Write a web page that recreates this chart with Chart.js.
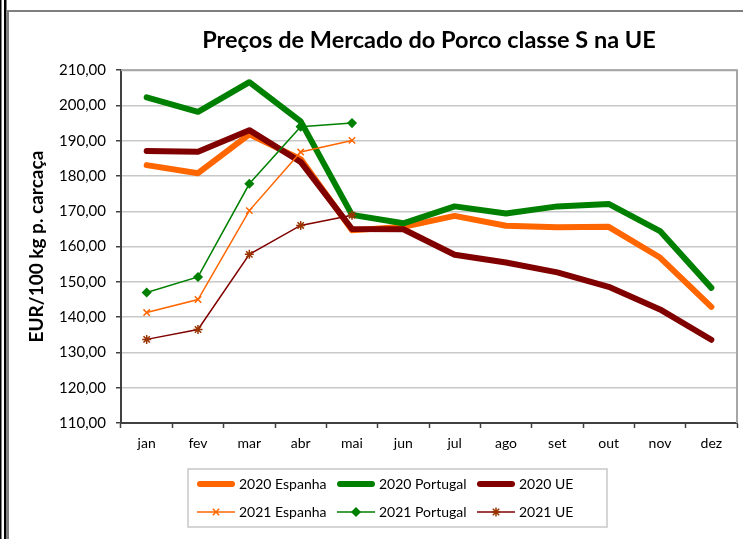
<!DOCTYPE html>
<html>
<head>
<meta charset="utf-8">
<script src="https://cdn.jsdelivr.net/npm/chart.js@4/dist/chart.umd.min.js"></script>
<style>
  html, body { margin: 0; padding: 0; background: #ffffff; }
  #wrap { width: 743px; height: 539px; position: relative; }
</style>
</head>
<body>
<div id="wrap"><canvas id="c" width="743" height="539"></canvas></div>
<script>
// Months and prices (EUR/100 kg carcass)
var months = ["jan", "fev", "mar", "abr", "mai", "jun", "jul", "ago", "set", "out", "nov", "dez"];

var esp2020 = [183.1, 180.8, 191.8, 184.8, 164.6, 165.6, 168.7, 165.9, 165.5, 165.6, 156.9, 142.9];
var por2020 = [202.3, 198.2, 206.6, 195.5, 169.0, 166.6, 171.4, 169.4, 171.4, 172.1, 164.4, 148.3];
var ue2020  = [187.1, 186.9, 193.0, 184.0, 165.0, 164.9, 157.7, 155.5, 152.7, 148.6, 142.2, 133.6];

var esp2021 = [141.3, 145.0, 170.2, 186.8, 190.1];
var por2021 = [147.0, 151.4, 177.8, 194.0, 195.0];
var ue2021  = [133.7, 136.5, 157.8, 166.0, 168.9];

var seriesNames = ["2020 Espanha", "2020 Portugal", "2020 UE", "2021 Espanha", "2021 Portugal", "2021 UE"];

var ORANGE = "#ff6600";
var GREEN = "#008000";
var DARKRED = "#800000";

var FONT = "Lato, 'Open Sans', sans-serif";

function fmt(v) {
  return v.toFixed(2).replace(".", ",");
}

// frame around the whole picture + top/right border of plot area
var framePlugin = {
  id: "frame",
  beforeDraw: function(chart) {
    var ctx = chart.ctx;
    ctx.save();
    ctx.fillStyle = "#ffffff";
    ctx.fillRect(0, 0, chart.width, chart.height);
    // double black line on the far left
    ctx.fillStyle = "#000000";
    ctx.fillRect(0, 0, 1.5, chart.height);
    ctx.fillRect(4, 0, 2.5, chart.height);
    // grey chart frame
    ctx.strokeStyle = "#7f7f7f";
    ctx.lineWidth = 2;
    ctx.beginPath();
    ctx.moveTo(8, chart.height + 5);
    ctx.lineTo(8, 11);
    ctx.lineTo(chart.width + 5, 11);
    ctx.stroke();
    ctx.restore();
  },
  afterDatasetsDraw: function(chart) {
    var a = chart.chartArea;
    var ctx = chart.ctx;
    ctx.save();
    ctx.strokeStyle = "#a6a6a6";
    ctx.lineWidth = 2;
    ctx.beginPath();
    ctx.moveTo(a.left, a.top);
    ctx.lineTo(a.right, a.top);
    ctx.lineTo(a.right, a.bottom);
    ctx.stroke();
    ctx.restore();
  }
};

// three-column legend box under the plot
var legendPlugin = {
  id: "boxLegend",
  afterDraw: function(chart) {
    var ctx = chart.ctx;
    var box = { x: 188, y: 469, w: 419, h: 58 };
    ctx.save();
    ctx.fillStyle = "#ffffff";
    ctx.fillRect(box.x, box.y, box.w, box.h);
    ctx.strokeStyle = "#c8c8c8";
    ctx.lineWidth = 1.5;
    ctx.strokeRect(box.x, box.y, box.w, box.h);

    var colX = [197, 337, 477];
    var rowY = [484, 512];
    chart.data.datasets.forEach(function(ds, i) {
      var x = colX[i % 3];
      var y = rowY[Math.floor(i / 3)];
      ctx.strokeStyle = ds.borderColor;
      ctx.lineWidth = ds.borderWidth;
      ctx.lineCap = ds.borderWidth > 3 ? "round" : "butt";
      ctx.beginPath();
      ctx.moveTo(x + (ds.borderWidth > 3 ? 3 : 0), y);
      ctx.lineTo(x + 38 - (ds.borderWidth > 3 ? 3 : 0), y);
      ctx.stroke();
      if (ds.pointRadius > 0) {
        ctx.fillStyle = ds.pointBackgroundColor;
        ctx.strokeStyle = ds.pointBorderColor;
        ctx.lineWidth = ds.pointBorderWidth;
        Chart.helpers.drawPoint(ctx, {
          pointStyle: ds.pointStyle,
          radius: ds.pointRadius,
          borderWidth: ds.pointBorderWidth,
          rotation: 0
        }, x + 19, y);
      }
      ctx.fillStyle = "#000000";
      ctx.font = "14px " + FONT;
      ctx.textBaseline = "middle";
      ctx.textAlign = "left";
      ctx.fillText(ds.label, x + 42, y);
    });
    ctx.restore();
  }
};

function thick(label, data, color, order) {
  return {
    label: label,
    data: data,
    borderColor: color,
    backgroundColor: color,
    borderWidth: 6,
    pointRadius: 0,
    pointHoverRadius: 0,
    borderCapStyle: "round",
    borderJoinStyle: "round",
    tension: 0,
    order: order
  };
}

function thin(label, data, color, style, markerColor, order) {
  return {
    label: label,
    data: data,
    borderColor: color,
    backgroundColor: color,
    borderWidth: 1.5,
    pointStyle: style,
    pointRadius: style === "rectRot" ? 4 : 4.5,
    pointBorderWidth: 1.5,
    pointBackgroundColor: markerColor,
    pointBorderColor: markerColor,
    tension: 0,
    order: order
  };
}

var ctx = document.getElementById("c").getContext("2d");

new Chart(ctx, {
  type: "line",
  data: {
    labels: months,
    datasets: [
      thick(seriesNames[0], esp2020, ORANGE, 5),
      thick(seriesNames[1], por2020, GREEN, 4),
      thick(seriesNames[2], ue2020, DARKRED, 3),
      thin(seriesNames[3], esp2021, ORANGE, "crossRot", ORANGE, 2),
      thin(seriesNames[4], por2021, GREEN, "rectRot", GREEN, 1),
      thin(seriesNames[5], ue2021, DARKRED, "star", "#993300", 0)
    ]
  },
  options: {
    responsive: false,
    animation: false,
    layout: { padding: { left: 20, right: 3, top: 0, bottom: 0 } },
    plugins: {
      legend: { display: false },
      tooltip: { enabled: false },
      title: {
        display: true,
        fullSize: false,
        text: "Preços de Mercado do Porco classe S na UE",
        color: "#000000",
        font: { family: FONT, size: 23.5, weight: "bold" },
        padding: { top: 26, bottom: 16 }
      }
    },
    scales: {
      x: {
        offset: true,
        afterFit: function(scale) { scale.height = 116; },
        grid: {
          offset: true,
          drawOnChartArea: false,
          drawTicks: true,
          tickLength: 5,
          tickColor: "#404040",
          tickWidth: 1.5
        },
        border: { color: "#404040", width: 2 },
        ticks: {
          color: "#000000",
          font: { family: FONT, size: 14 },
          padding: 7,
          maxRotation: 0,
          autoSkip: false
        }
      },
      y: {
        min: 110,
        max: 210,
        afterFit: function(scale) { scale.width = 101; },
        grid: {
          color: "#c8c8c8",
          lineWidth: 1.5,
          tickLength: 5,
          tickColor: "#404040",
          tickWidth: 1.5
        },
        border: { color: "#404040", width: 2 },
        title: {
          display: true,
          text: "EUR/100 kg p. carcaça",
          color: "#000000",
          font: { family: FONT, size: 19, weight: "bold" },
          padding: { top: 5, bottom: 0 }
        },
        ticks: {
          stepSize: 10,
          color: "#000000",
          font: { family: FONT, size: 15 },
          padding: 10,
          callback: function(v) { return fmt(v); }
        }
      }
    }
  },
  plugins: [framePlugin, legendPlugin]
});
</script>
</body>
</html>
